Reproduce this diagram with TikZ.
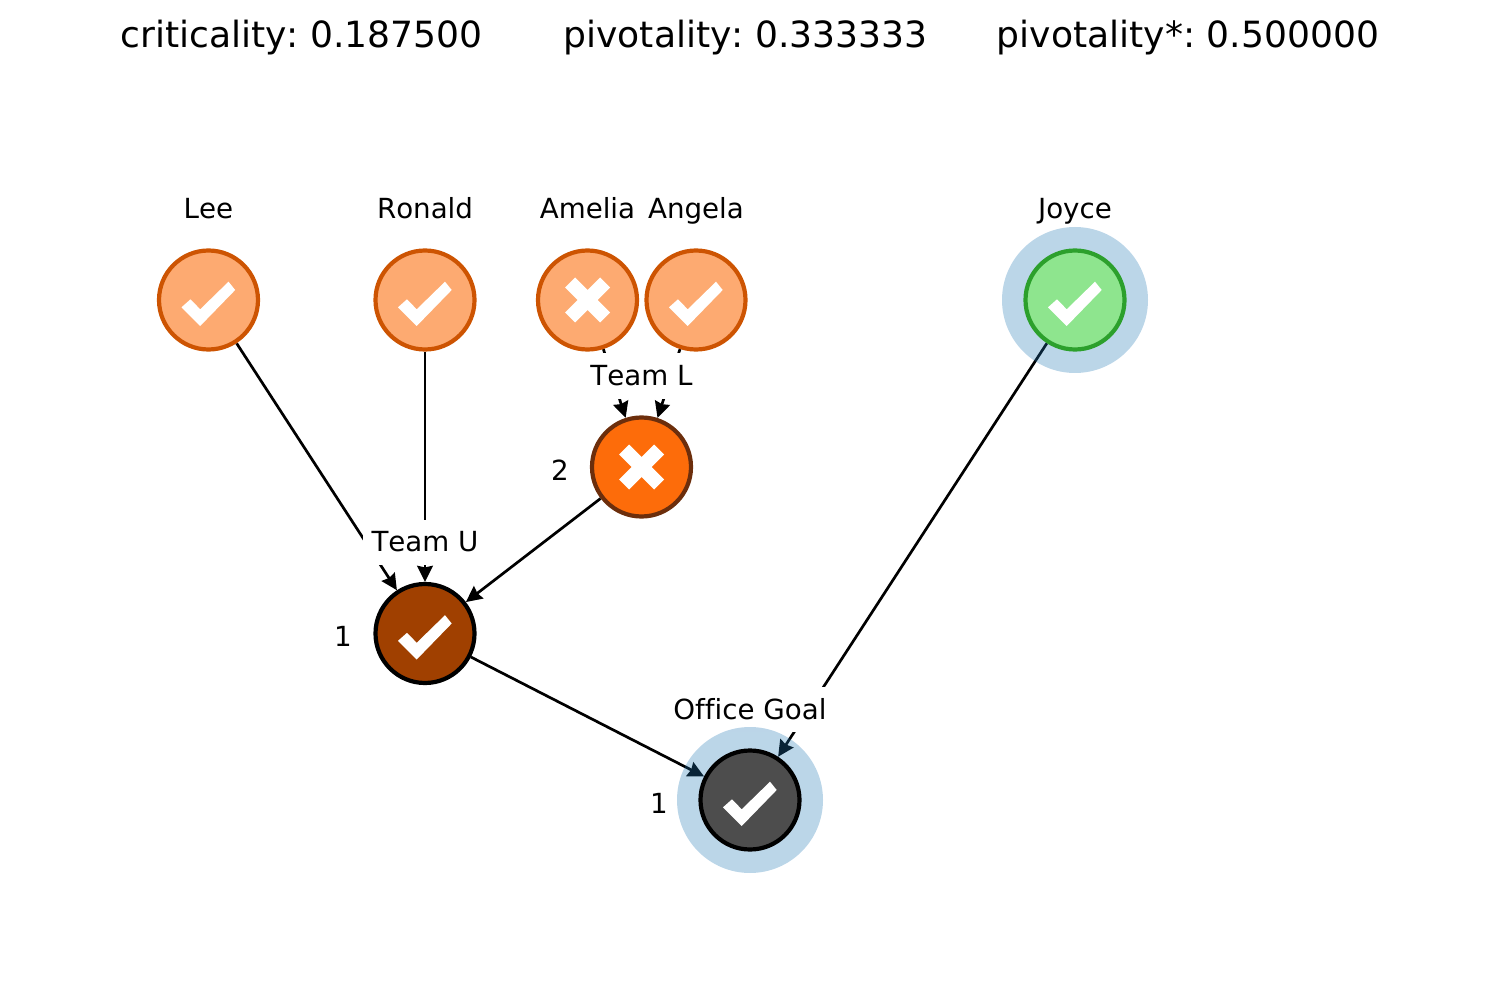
\documentclass[tikz,border=0pt]{standalone}
\usepackage{fontspec}
\setmainfont[Ligatures=NoCommon,Kerning=Off]{DejaVu Sans}
\usetikzlibrary{arrows.meta}
\pgfdeclarelayer{edgelayer}
\pgfdeclarelayer{boxlayer}
\pgfdeclarelayer{halolayer}
\pgfsetlayers{edgelayer,boxlayer,halolayer,main}
\definecolor{leaffill}{RGB}{253,170,113}
\definecolor{leafline}{RGB}{205,84,2}
\definecolor{teamLfill}{RGB}{253,108,10}
\definecolor{teamLline}{RGB}{108,46,12}
\definecolor{teamUfill}{RGB}{160,64,0}
\definecolor{goalfill}{RGB}{77,77,77}
\definecolor{joycefill}{RGB}{142,229,142}
\definecolor{joyceline}{RGB}{44,160,44}
\definecolor{halocol}{RGB}{31,119,180}
\tikzset{
  agent/.style={circle,draw,line width=4.2pt,minimum size=99pt,inner sep=0pt,outer sep=2.1pt},
  leafagent/.style={agent,fill=leaffill,draw=leafline},
  halo/.style={circle,fill=halocol,fill opacity=0.3,minimum size=146pt,inner sep=0pt,outer sep=0pt},
  edgeline/.style={line width=2.7pt,draw=black,-{Stealth[length=16pt,width=15.5pt,inset=1.5pt]}},
  namelabel/.style={anchor=base,font=\fontsize{27.7}{30}\selectfont},
  boxlabel/.style={fill=white,inner sep=0pt,minimum height=45pt,font=\fontsize{27.7}{30}\selectfont},
  titlelabel/.style={anchor=base,font=\fontsize{36.1}{42}\selectfont},
  okmark/.pic={\fill[white] (-27,7.3) -- (-18,-0.7) -- (-8.3,9.3) -- (20,-18.3) -- (26.7,-10) -- (-8.3,26) -- cycle;},
  nomark/.pic={\fill[white] (-12.5,-22.5) -- (0,-10) -- (12.5,-22.5) -- (22.5,-12.5) -- (10,0) -- (22.5,12.5) -- (12.5,22.5) -- (0,10) -- (-12.5,22.5) -- (-22.5,12.5) -- (-10,0) -- (-22.5,-12.5) -- cycle;}
}
\begin{document}
\frenchspacing
\begin{tikzpicture}[x=1pt,y=-1pt]
\useasboundingbox (0,0) rectangle (1500,1000);
% titles
\node[titlelabel] (t1) at (301.5,47.5) {criticality: 0.187500};
\node[titlelabel] (t2) at (745.5,47.5) {pivotality: 0.333333};
\node[titlelabel] (t3) at (1188,47.5) {pivotality*: 0.500000};
% agents
\node[leafagent] (lee) at (208.5,300) {};
\node[leafagent] (ronald) at (425,300) {};
\node[leafagent] (amelia) at (587.5,300) {};
\node[leafagent] (angela) at (696,300) {};
\node[agent,fill=joycefill,draw=joyceline] (joyce) at (1075,300) {};
\node[agent,fill=teamLfill,draw=teamLline] (teamL) at (641.5,467) {};
\node[agent,fill=teamUfill,draw=black] (teamU) at (425,633.5) {};
\node[agent,fill=goalfill,draw=black] (goal) at (750,800) {};
% marks
\pic at (lee) {okmark};
\pic at (ronald) {okmark};
\pic at (amelia) {nomark};
\pic at (angela) {okmark};
\pic at (joyce) {okmark};
\pic at (teamL) {nomark};
\pic at (teamU) {okmark};
\pic at (goal) {okmark};
% names
\node[namelabel] (nlee) at (208.5,219) {Lee};
\node[namelabel] (nronald) at (425,219) {Ronald};
\node[namelabel] (namelia) at (587.5,219) {Amelia};
\node[namelabel] (nangela) at (696,219) {Angela};
\node[namelabel] (njoyce) at (1075,219) {Joyce};
\node[namelabel] (n2) at (560,480.5) {2};
\node[namelabel] (n1a) at (343,646.5) {1};
\node[namelabel] (n1b) at (659,813.5) {1};
\begin{pgfonlayer}{boxlayer}
\node[boxlabel,minimum width=124pt] (lteamL) at (641.5,376) {Team L};
\node[boxlabel,minimum width=124pt] (lteamU) at (425,542) {Team U};
\node[boxlabel,minimum width=171pt] (lgoal) at (750,709) {Office Goal};
\end{pgfonlayer}
\begin{pgfonlayer}{halolayer}
\node[halo] (hjoyce) at (joyce) {};
\node[halo] (hgoal) at (goal) {};
\end{pgfonlayer}
\begin{pgfonlayer}{edgelayer}
\draw[edgeline] (lee) -- (teamU);
\draw[edgeline] (ronald) -- (teamU);
\draw[edgeline] (amelia) -- (teamL);
\draw[edgeline] (angela) -- (teamL);
\draw[edgeline] (teamL) -- (teamU);
\draw[edgeline] (teamU) -- (goal);
\draw[edgeline] (joyce) -- (goal);
\end{pgfonlayer}
\end{tikzpicture}
\end{document}
